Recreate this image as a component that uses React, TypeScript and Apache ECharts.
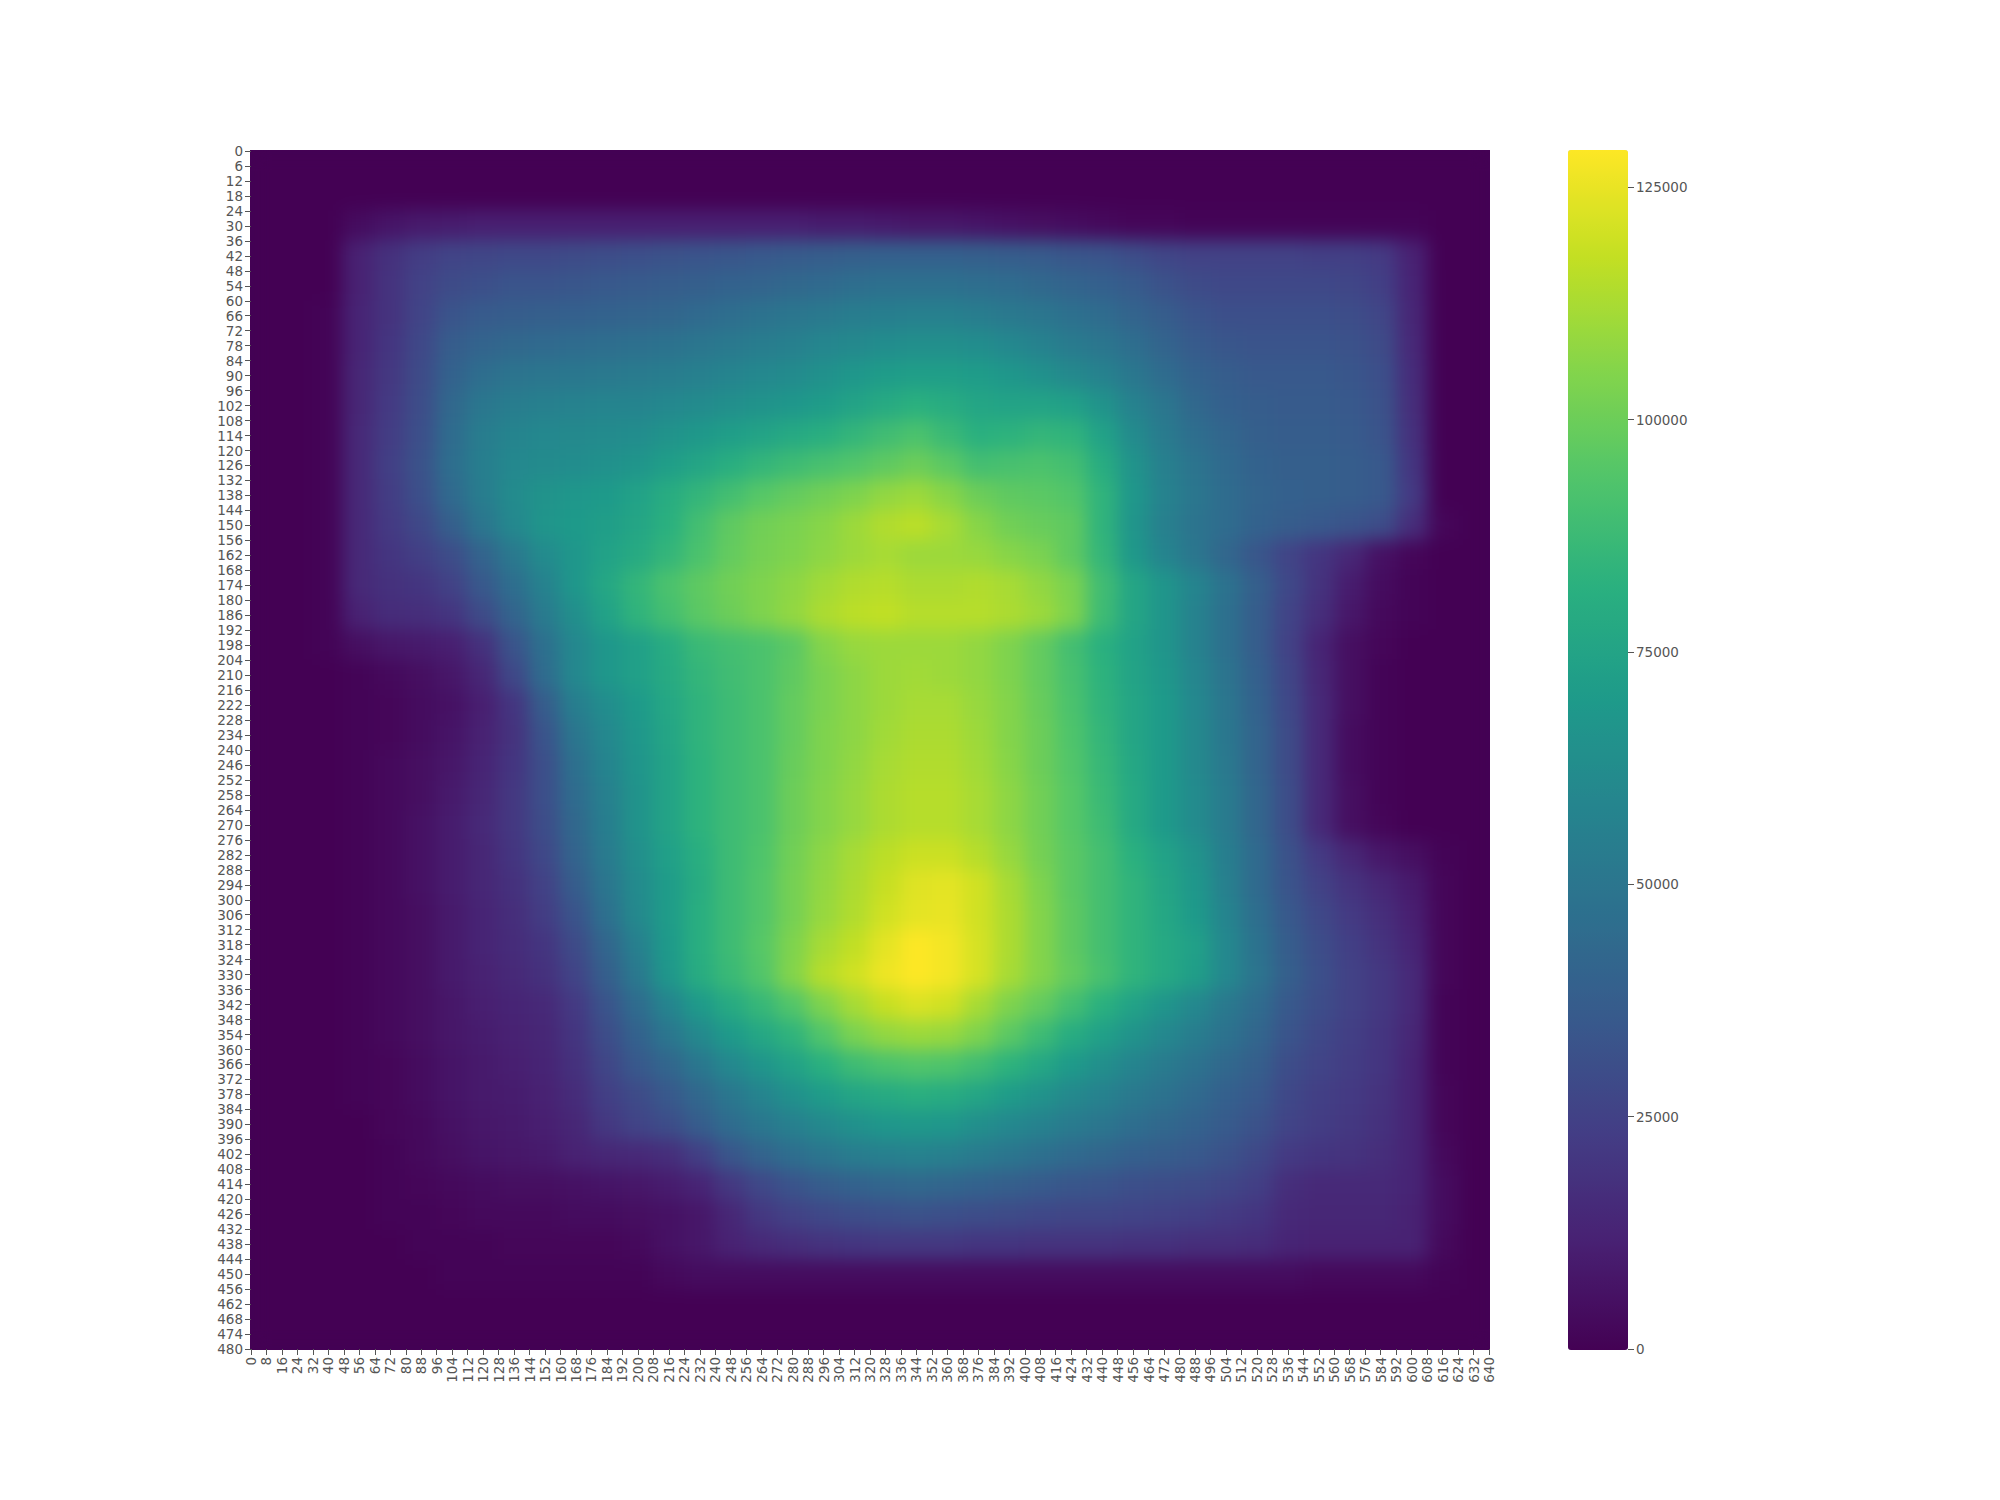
import React, { useEffect, useRef } from "react";
import * as echarts from "echarts";

const xCenters = Array.from({ length: 40 }, (_, i) => String(8 + 16 * i));
const yCenters = Array.from({ length: 40 }, (_, i) => String(6 + 12 * i));
const xTickStep = 8;
const yTickStep = 6;
const colorbarTicks = [0, 25000, 50000, 75000, 100000, 125000];
const valueMax = 129000;
const viridis = ["#440154","#482173","#433e85","#38598c","#2d708e","#25858e","#1e9b8a","#2ab07f","#51c56a","#85d54a","#c2df23","#fde725"];

// values in thousands, one row per 12 units of y, one column per 16 units of x
const rows: number[][] = [
[0,0,0,0,0,0,0,0,0,0,0,0,0,0,0,0,0,0,0,0,0,0,0,0,0,0,0,0,0,0,0,0,0,0,0,0,0,0,0,0],
[0,0,0,0,0,0,0,0,0,0,0,0,0,0,0,0,0,0,0,0,0,0,0,0,0,0,0,0,0,0,0,0,0,0,0,0,0,0,0,0],
[0,0,0,4,7,9,10,11,11,11,11,11,11,11,11,11,11,11,10,10,9,8,8,7,6,5,4,3,2,2,1,1,1,1,1,1,1,1,0,0],
[0,0,0,12,18,23,26,27,28,28,29,30,31,32,33,34,35,36,37,38,39,39,39,38,37,36,34,33,30,27,25,25,25,25,24,24,22,12,0,0],
[0,0,0,12,19,25,29,31,33,33,34,35,36,37,38,40,41,43,44,46,47,47,47,46,45,43,41,39,36,32,29,28,28,28,28,27,24,13,0,0],
[0,0,1,13,19,26,33,36,37,38,39,40,41,42,44,46,48,50,52,54,55,56,56,54,52,50,47,45,41,37,33,31,31,31,31,30,27,14,0,0],
[0,0,1,13,20,28,37,41,43,44,45,46,47,48,50,52,54,56,59,61,63,64,64,63,60,57,53,50,46,41,36,34,33,33,33,32,29,15,0,0],
[0,0,1,14,21,29,40,46,49,50,51,52,53,54,56,58,60,62,65,68,71,72,72,71,68,65,61,57,51,45,40,37,35,35,35,34,31,16,0,0],
[0,0,1,14,22,30,43,51,54,56,57,58,58,60,62,64,66,68,71,75,79,82,80,76,75,75,73,66,57,50,43,39,37,36,36,35,32,17,0,0],
[0,0,1,15,23,31,45,54,58,60,61,62,63,66,69,72,75,78,81,85,89,92,87,82,83,85,84,74,62,53,46,42,38,37,37,36,33,18,0,0],
[0,0,1,15,24,32,46,55,60,62,63,65,67,72,76,81,85,88,91,94,97,100,96,90,91,92,90,80,66,56,49,44,40,38,38,37,35,20,0,0],
[0,0,1,15,23,31,44,54,62,66,68,70,74,80,85,90,95,98,101,104,108,110,106,100,97,96,94,84,68,57,50,45,41,39,38,37,35,22,0,0],
[0,0,1,15,22,28,38,50,60,67,70,72,76,82,90,97,101,103,106,110,114,116,112,106,101,99,97,84,67,56,49,45,40,37,35,33,30,17,2,0],
[0,0,1,15,20,24,30,41,52,62,68,74,79,85,92,98,102,104,107,110,112,110,110,109,106,103,97,85,69,58,50,42,34,26,20,14,6,2,0,0],
[0,0,1,15,18,20,25,35,46,57,68,77,85,92,97,101,104,107,111,114,115,113,113,114,112,108,103,89,76,67,58,48,38,28,19,10,4,1,0,0],
[0,0,1,12,16,17,20,29,41,53,64,74,84,90,96,100,104,108,113,116,117,115,115,115,113,110,104,88,76,67,57,47,37,26,17,8,3,1,0,0],
[0,0,1,5,8,9,11,18,33,47,60,68,73,80,87,90,92,96,105,109,110,110,110,108,104,98,90,82,74,67,57,47,37,25,13,5,2,0,0,0],
[0,0,0,1,3,5,8,14,28,45,60,68,73,79,85,89,92,97,103,107,110,111,110,108,104,98,91,83,75,69,59,49,39,27,14,5,1,0,0,0],
[0,0,0,1,2,4,6,11,20,37,55,63,70,77,84,88,92,98,103,107,110,112,112,109,105,99,92,84,76,70,60,50,40,28,15,5,1,0,0,0],
[0,0,0,1,2,4,7,12,19,33,50,60,68,76,84,88,92,98,104,107,111,113,113,110,105,100,93,85,76,70,61,51,41,29,15,4,1,0,0,0],
[0,0,0,1,3,5,8,13,20,31,47,58,67,75,83,88,92,99,104,108,112,114,114,111,106,100,94,86,77,70,61,52,41,29,15,4,1,0,0,0],
[0,0,0,1,3,5,9,14,21,31,45,56,66,75,83,88,92,100,105,109,113,115,115,112,107,101,95,87,78,70,62,53,42,30,15,5,1,0,0,0],
[0,0,0,1,3,6,10,15,21,30,43,55,66,75,83,88,92,100,105,109,113,115,115,112,107,101,95,88,78,70,62,53,42,30,15,5,2,0,0,0],
[0,0,0,1,3,6,10,14,20,28,41,53,64,73,81,88,93,101,107,112,116,119,119,115,109,102,96,90,82,74,66,55,44,32,22,14,8,5,1,0],
[0,0,0,1,3,6,10,14,18,25,37,50,62,71,80,88,94,102,108,113,118,123,124,120,112,104,96,90,84,76,68,56,44,33,25,19,14,9,2,0],
[0,0,0,1,3,5,9,13,17,23,33,47,61,71,81,88,94,102,109,114,120,124,125,120,113,105,97,90,84,77,70,58,46,35,28,22,17,11,2,0],
[0,0,0,1,3,5,9,13,16,20,29,42,56,70,81,88,95,104,112,117,124,129,127,121,113,105,97,90,84,78,73,60,48,37,30,24,19,13,2,0],
[0,0,0,1,3,5,9,12,15,18,26,38,52,68,80,87,94,105,115,120,126,129,127,121,112,105,98,91,84,78,72,60,49,38,31,25,21,15,2,0],
[0,0,0,1,3,5,8,11,13,15,22,33,45,58,70,79,86,94,104,112,118,122,120,112,104,98,90,82,74,67,60,52,45,35,30,25,21,15,1,0],
[0,0,0,1,3,5,8,10,12,14,20,30,40,50,61,70,77,84,94,103,108,110,109,104,96,88,80,73,66,60,54,48,42,33,28,24,20,14,1,0],
[0,0,0,1,2,4,7,9,11,13,18,27,35,42,51,60,67,74,82,88,92,94,93,89,83,77,70,64,58,53,48,43,38,30,26,23,20,13,1,0],
[0,0,0,1,2,4,7,9,10,12,16,24,29,35,43,51,58,65,71,76,79,81,80,76,71,66,61,57,52,48,44,39,35,28,24,22,19,13,2,0],
[0,0,0,0,2,3,6,8,9,11,14,21,26,30,37,45,51,56,61,65,68,69,68,64,60,57,53,50,46,43,40,36,32,26,23,21,18,13,2,0],
[0,0,0,0,1,3,5,7,8,9,12,14,15,17,24,34,41,46,50,54,56,57,56,53,50,47,44,42,39,37,35,32,28,22,20,19,17,13,3,0],
[0,0,0,0,1,2,3,4,5,5,6,7,8,10,13,21,28,33,37,40,42,43,42,40,38,36,34,33,31,30,29,27,24,17,15,15,15,13,4,0],
[0,0,0,0,1,1,2,3,3,3,4,4,5,6,8,14,21,25,28,30,31,32,31,30,29,28,27,27,26,25,24,22,20,15,14,14,14,12,4,0],
[0,0,0,0,0,1,1,1,2,2,2,2,3,6,8,12,15,17,19,20,21,21,21,20,20,19,19,19,18,18,17,17,16,13,12,12,12,12,3,0],
[0,0,0,0,0,0,1,1,1,1,1,1,1,3,4,4,4,4,4,4,4,4,4,4,4,4,4,4,4,4,4,4,4,4,3,3,3,3,1,0],
[0,0,0,0,0,0,0,0,0,0,0,0,0,0,0,0,0,0,0,0,0,0,0,0,0,0,0,0,0,0,0,0,0,0,0,0,0,0,0,0],
[0,0,0,0,0,0,0,0,0,0,0,0,0,0,0,0,0,0,0,0,0,0,0,0,0,0,0,0,0,0,0,0,0,0,0,0,0,0,0,0],
];

const cells: number[][] = [];
rows.forEach((r, y) => r.forEach((v, x) => cells.push([x, y, v * 1000])));

const FONT = "DejaVu Sans";
const TEXT = "#555555";

export default function App() {
  const heatRef = useRef<HTMLDivElement>(null);
  const axesRef = useRef<HTMLDivElement>(null);

  useEffect(() => {
    document.body.style.margin = "0";
    const heat = echarts.init(heatRef.current!, undefined, { renderer: "svg" });
    heat.setOption({
      animation: false,
      grid: { left: 0, top: 0, right: 0, bottom: 0 },
      xAxis: { type: "category", data: xCenters, show: false },
      yAxis: { type: "category", data: yCenters, show: false, inverse: true },
      visualMap: { show: false, min: 0, max: valueMax, dimension: 2, inRange: { color: viridis } },
      series: [{ type: "heatmap", data: cells, progressive: 0, emphasis: { disabled: true } }],
    });

    const axes = echarts.init(axesRef.current!, undefined, { renderer: "svg" });
    const line = { show: false, onZero: false };
    const tick = { show: true, length: 6, lineStyle: { color: TEXT, width: 1 } };
    const label = { color: TEXT, fontFamily: FONT, fontSize: 13.5 };
    axes.setOption({
      animation: false,
      grid: [
        { left: 251, top: 151, width: 1238, height: 1198 },
        { left: 1568, top: 150, width: 60, height: 1199 },
      ],
      xAxis: [
        { gridIndex: 0, type: "value", min: 0, max: 640, interval: xTickStep, position: "bottom", axisLine: line, splitLine: { show: false }, axisTick: tick,
          axisLabel: { ...label, rotate: 90, margin: 8, hideOverlap: false, showMinLabel: true, showMaxLabel: true } },
        { gridIndex: 1, type: "value", show: false, min: 0, max: 1 },
      ],
      yAxis: [
        { gridIndex: 0, type: "value", inverse: true, min: 0, max: 480, interval: yTickStep, position: "left", axisLine: line, splitLine: { show: false }, axisTick: tick,
          axisLabel: { ...label, margin: 8, hideOverlap: false, showMinLabel: true, showMaxLabel: true } },
        { gridIndex: 1, type: "value", min: 0, max: valueMax, position: "right", axisLine: line, splitLine: { show: false },
          axisTick: { ...tick, customValues: colorbarTicks },
          axisLabel: { ...label, margin: 8, customValues: colorbarTicks, formatter: (v: number) => String(v) } },
      ],
      visualMap: {
        type: "continuous", min: 0, max: valueMax, left: 1568, top: 150, itemWidth: 60, itemHeight: 1200, padding: 0,
        calculable: false, showLabel: false, realtime: false, hoverLink: false, seriesIndex: [], inRange: { color: viridis },
      },
      series: [],
    });
    return () => { heat.dispose(); axes.dispose(); };
  }, []);

  return (
    <div style={{ position: "relative", width: 2000, height: 1500, background: "#fff" }}>
      <div style={{ position: "absolute", left: 250, top: 150, width: 1240, height: 1200, overflow: "hidden", background: "#440154" }}>
        <div ref={heatRef} style={{ width: 1240, height: 1200, filter: "blur(9px)" }} />
      </div>
      <div ref={axesRef} style={{ position: "absolute", left: 0, top: 0, width: 2000, height: 1500 }} />
    </div>
  );
}
